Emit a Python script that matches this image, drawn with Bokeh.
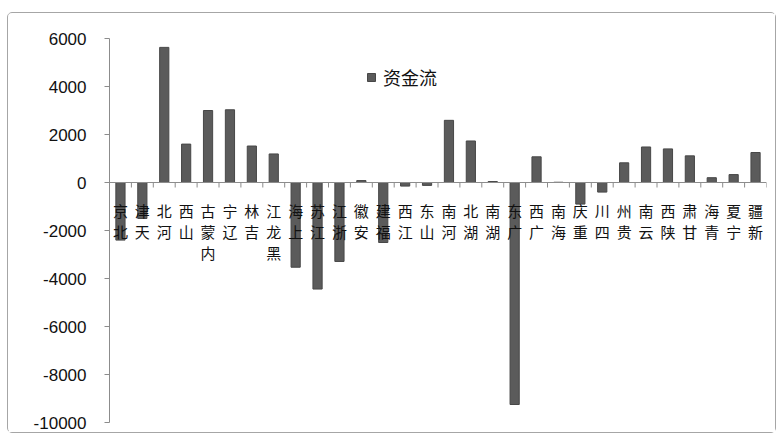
from bokeh.plotting import figure
from bokeh.models import ColumnDataSource, Range1d, FixedTicker, Span, Legend, LegendItem
from bokeh.embed import file_html
from bokeh.resources import INLINE
from bokeh.core.properties import value

provinces = ["北京", "天津", "河北", "山西", "内蒙古", "辽宁", "吉林", "黑龙江", "上海", "江苏",
             "浙江", "安徽", "福建", "江西", "山东", "河南", "湖北", "湖南", "广东", "广西",
             "海南", "重庆", "四川", "贵州", "云南", "陕西", "甘肃", "青海", "宁夏", "新疆"]
flows = [-2400, -1500, 5630, 1600, 3000, 3030, 1520, 1190, -3530, -4440,
         -3290, 80, -2500, -150, -120, 2590, 1730, 40, -9250, 1070,
         10, -900, -400, 820, 1480, 1400, 1110, 200, 330, 1250]
y_ticks = [-10000, -8000, -6000, -4000, -2000, 0, 2000, 4000, 6000]
y_tick_labels = ["-10000", "-8000", "-6000", "-4000", "-2000", "0", "2000", "4000", "6000"]
series_name = "资金流"

n = len(provinces)
y_min, y_max = y_ticks[0], y_ticks[-1]

W, H = 769, 421
ML, MT, MR, MB = 101, 25, 11, 12
frame_h = H - MT - MB

p = figure(width=W, height=H, output_backend="svg", toolbar_location=None,
           x_range=Range1d(0, n), y_range=Range1d(y_min, y_max),
           x_axis_location=None, min_border_left=ML, min_border_top=MT,
           min_border_right=MR, min_border_bottom=MB)
p.margin = (12, 0, 0, 7)
p.styles = {"border": "1px solid #a6a6a6", "border-radius": "5px"}
p.outline_line_color = None
p.xgrid.visible = False
p.ygrid.visible = False
p.background_fill_color = "white"
p.border_fill_color = "white"

ax = p.yaxis[0]
ax.ticker = FixedTicker(ticks=y_ticks)
ax.major_label_overrides = {t: s for t, s in zip(y_ticks, y_tick_labels)}
ax.minor_tick_line_color = None
ax.major_tick_out = 5
ax.major_tick_in = 0
ax.axis_line_color = "#8c8c8c"
ax.major_tick_line_color = "#8c8c8c"
ax.major_label_text_font = "Liberation Sans"
ax.major_label_text_font_size = "17px"
ax.major_label_text_color = "#111111"
ax.major_label_standoff = 18

src = ColumnDataSource(dict(x=[i + 0.5 for i in range(n)], top=flows, name=provinces))
bars = p.vbar(x="x", top="top", bottom=0, width=0.42, source=src,
              fill_color="#5b5b5b", line_color="#474747", line_width=1)

# zero axis line and category boundary ticks
p.add_layout(Span(location=0, dimension="width", line_color="#8c8c8c", line_width=1))
tick_len = 5 * (y_max - y_min) / frame_h
bx = list(range(n + 1))
p.segment(x0=bx, x1=bx, y0=[0] * (n + 1), y1=[-tick_len] * (n + 1),
          line_color="#8c8c8c", line_width=1)

# stacked vertical labels (read bottom to top, last char nearest axis)
cx, ch, co = [], [], []
for i, name in enumerate(provinces):
    for k, c in enumerate(reversed(name)):
        cx.append(i + 0.5)
        ch.append(c)
        co.append(28 + 21 * k)
lab = ColumnDataSource(dict(x=cx, y=[0] * len(cx), t=ch, off=co))
p.text(x="x", y="y", text="t", y_offset="off", source=lab,
       text_font=value("Noto Sans CJK SC"), text_font_size="15px",
       text_align="center", text_baseline="middle", text_color="#111111")

legend = Legend(items=[LegendItem(label=series_name, renderers=[bars])],
                location=(257, 332), orientation="vertical",
                border_line_color=None, background_fill_alpha=0,
                padding=0, margin=0, glyph_width=10, glyph_height=10,
                label_standoff=7, label_text_font="Noto Sans CJK SC",
                label_text_font_size="18px", label_text_color="#111111")
p.add_layout(legend)

open("out.html", "w").write(file_html(p, INLINE))
